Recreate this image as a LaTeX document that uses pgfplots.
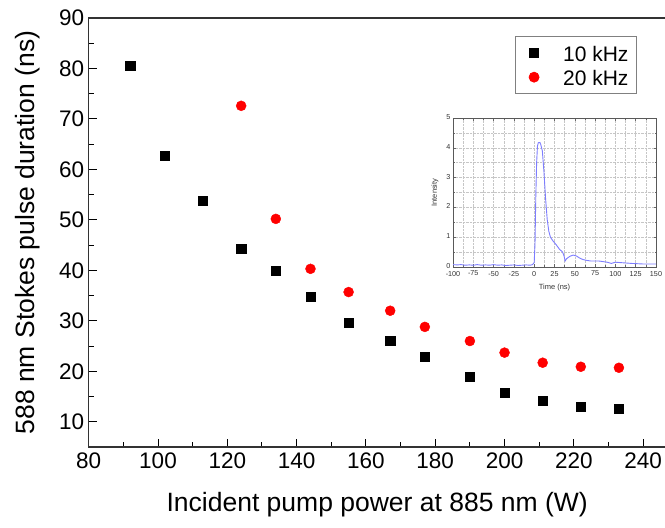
\documentclass[border=0pt]{standalone}
\usepackage{pgfplots}
\pgfplotsset{compat=1.18}
\usepackage{fontspec}
\setmainfont{Liberation Sans}
\definecolor{curveblue}{RGB}{125,125,255}
\begin{document}
\begin{tikzpicture}[x=1pt,y=1pt]
\useasboundingbox (-88.7,-81) rectangle (576.3,447);
\begin{axis}[
  at={(0pt,0pt)}, anchor=south west,
  scale only axis, width=577pt, height=429pt,
  xmin=80, xmax=246.5, ymin=5, ymax=90,
  xtick={80,100,...,240}, ytick={10,20,...,90},
  minor x tick num=1, minor y tick num=1,
  tick align=inside, xtick pos=left, ytick pos=left,
  major tick length=8pt, minor tick length=5pt,
  tick style={black, line width=1pt},
  axis line style={line width=1.2pt, black!80},
  ticklabel style={font=\fontsize{22.5}{27}\selectfont},
  /pgf/number format/assume math mode=true,
  xticklabel style={yshift=-2pt},
  yticklabel style={xshift=-1pt},
  xlabel={Incident pump power at 885 nm (W)},
  ylabel={588 nm Stokes pulse duration (ns)},
  label style={font=\fontsize{26.5}{32}\selectfont},
  xlabel style={at={(axis description cs:0.5,-0.1352)}, anchor=center},
  ylabel style={at={(axis description cs:-0.106,0.5)}, anchor=center},
  legend style={at={(0.950,0.958)}, anchor=north east, draw=gray, line width=0.8pt,
    font=\fontsize{21}{25}\selectfont, inner xsep=6pt, inner ysep=4pt},
  legend cell align=left,
  legend image code/.code={\path (-12pt,0pt); \draw[mark repeat=1,#1] plot coordinates {(0pt,0pt)};},
]
\addplot[only marks, mark=square*, mark size=4.6pt, black] coordinates {
(92,80.5) (102,62.7) (113,53.8) (124,44.3) (134,39.9) (144,34.8) (155,29.6)
(167,26.0) (177,22.9) (190,18.9) (200,15.7) (211,14.2) (222,13.0) (233,12.6)};
\addlegendentry{\hspace{22pt}10 kHz\rule[-7pt]{0pt}{26pt}}
\addplot[only marks, mark=*, mark size=5pt, red, mark options={draw=red, fill=red}] coordinates {
(124,72.6) (134,50.2) (144,40.3) (155,35.7) (167,32.0) (177,28.8) (190,26.0)
(200,23.7) (211,21.7) (222,20.9) (233,20.7)};
\addlegendentry{\hspace{22pt}20 kHz\rule[-7pt]{0pt}{26pt}}
\end{axis}
\begin{axis}[
  at={(364.3pt,180pt)}, anchor=south west,
  scale only axis, width=203pt, height=149pt,
  xmin=-100, xmax=150, ymin=0, ymax=5,
  xtick={-100,-75,...,150}, ytick={0,1,...,5},
  minor x tick num=1, minor y tick num=1,
  grid=both, grid style={densely dotted, gray!45, line width=0.5pt},
  tick align=inside, major tick length=2.5pt, minor tick length=1.5pt,
  tick style={gray!80!black, line width=0.5pt},
  axis line style={gray!70!black, line width=0.6pt},
  ticklabel style={font=\fontsize{7.2}{9}\selectfont, text=black!80},
  /pgf/number format/assume math mode=true,
  xticklabel style={yshift=-0.5pt},
  yticklabel style={xshift=1pt, yshift=1pt},
  xlabel={Time (ns)}, ylabel={Intensity},
  label style={font=\fontsize{7.5}{9}\selectfont, text=black!80},
  xlabel style={at={(axis description cs:0.5,-0.141)}, anchor=center},
  ylabel style={at={(axis description cs:-0.089,0.5)}, anchor=center},
]
\addplot[curveblue, line width=0.9pt] coordinates {
(-100,0.08) (-95,0.07) (-90,0.08) (-85,0.06) (-80,0.07) (-75,0.06) (-70,0.08)
(-65,0.06) (-60,0.07) (-55,0.06) (-50,0.08) (-45,0.06) (-40,0.07) (-35,0.05)
(-30,0.06) (-25,0.07) (-20,0.05) (-15,0.06) (-10,0.07) (-5,0.06) (-2,0.08)
(0,0.15) (1,0.8) (2,2.4) (3,3.5) (4,4.05) (5,4.17) (7,4.18) (8,4.12)
(10,3.9) (12,3.2) (14,2.3) (16,1.6) (18,1.2) (20,1.0) (23,0.88) (27,0.75)
(31,0.6) (35,0.5) (37,0.35) (38,0.2) (40,0.28) (44,0.36) (48,0.4) (52,0.37)
(56,0.3) (60,0.25) (65,0.22) (70,0.2) (80,0.2) (90,0.16) (95,0.12)
(100,0.16) (110,0.14) (120,0.12) (135,0.1) (150,0.1)};
\end{axis}
\end{tikzpicture}
\end{document}
